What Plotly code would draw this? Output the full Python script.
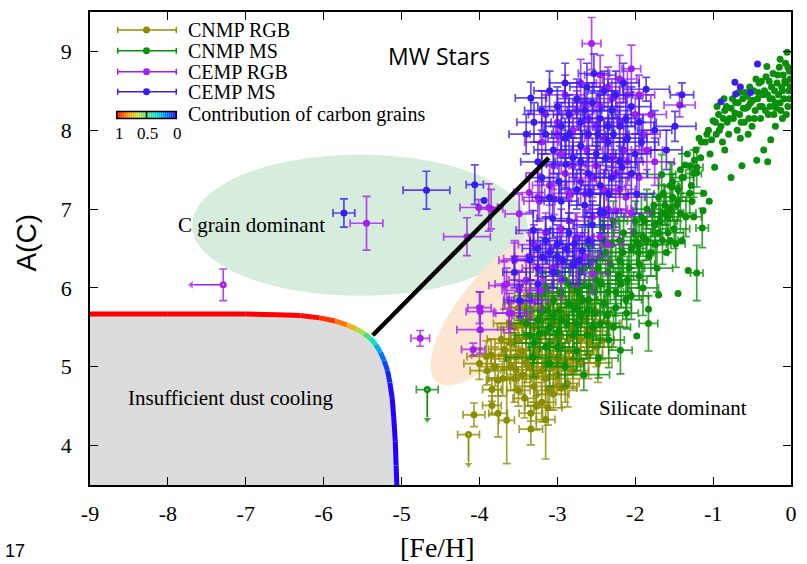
import numpy as np
import plotly.graph_objects as go
from plotly.colors import sample_colorscale

# ---------------- data ----------------
# (Fe/H, A(C), err_FeH, err_AC)
cnmp_rgb = [
    (-4.07, 4.39, 0.14, 0.15), (-3.84, 4.51, 0.12, 0.12), (-3.76, 4.41, 0.12, 0.30),
    (-3.65, 4.32, 0.10, 0.55), (-3.34, 4.21, 0.15, 0.20), (-3.34, 4.41, 0.15, 0.10),
    (-3.20, 4.55, 0.18, 0.25), (-3.05, 4.65, 0.20, 0.20), (-3.50, 4.70, 0.15, 0.20),
    (-3.70, 4.85, 0.18, 0.22), (-3.90, 4.95, 0.22, 0.18), (-4.00, 5.04, 0.20, 0.20),
    (-3.85, 5.15, 0.25, 0.20), (-3.60, 5.00, 0.22, 0.30), (-3.45, 4.90, 0.20, 0.25),
    (-3.30, 4.75, 0.25, 0.20), (-3.15, 4.85, 0.18, 0.30), (-3.00, 4.90, 0.20, 0.25),
    (-2.90, 4.75, 0.15, 0.20), (-2.80, 4.95, 0.20, 0.25), (-2.70, 5.05, 0.22, 0.20),
    (-2.60, 5.15, 0.18, 0.30), (-2.50, 5.25, 0.20, 0.25), (-2.42, 5.34, 0.15, 0.25),
    (-2.55, 5.45, 0.22, 0.20), (-2.70, 5.35, 0.25, 0.25), (-2.85, 5.20, 0.20, 0.30),
    (-3.00, 5.10, 0.25, 0.25), (-3.15, 5.05, 0.22, 0.20), (-3.30, 5.15, 0.20, 0.25),
    (-3.45, 5.20, 0.25, 0.30), (-3.60, 5.30, 0.20, 0.25), (-3.72, 5.35, 0.18, 0.20),
    (-3.55, 5.50, 0.22, 0.25), (-3.40, 5.40, 0.20, 0.30), (-3.25, 5.35, 0.25, 0.25),
    (-3.10, 5.30, 0.20, 0.20), (-2.95, 5.40, 0.22, 0.30), (-2.80, 5.50, 0.20, 0.25),
    (-2.65, 5.60, 0.25, 0.20), (-2.50, 5.70, 0.20, 0.25), (-2.35, 5.55, 0.18, 0.30),
    (-2.75, 5.75, 0.22, 0.25), (-2.90, 5.65, 0.20, 0.20), (-3.05, 5.55, 0.25, 0.25),
    (-3.20, 5.60, 0.20, 0.30), (-3.35, 5.65, 0.22, 0.25), (-3.50, 5.75, 0.20, 0.20),
    (-3.10, 5.80, 0.20, 0.25), (-2.95, 5.90, 0.22, 0.25), (-2.80, 5.95, 0.20, 0.20),
    (-3.25, 5.90, 0.18, 0.25), (-3.62, 5.55, 0.20, 0.25), (-3.15, 4.33, 0.12, 0.50),
    (-3.27, 4.50, 0.15, 0.30), (-2.95, 4.73, 0.20, 0.25), (-2.87, 4.79, 0.15, 0.30),
    (-3.76, 4.83, 0.15, 0.20), (-3.84, 4.71, 0.12, 0.15), (-3.53, 4.96, 0.20, 0.25),
    (-3.27, 4.88, 0.22, 0.25), (-3.91, 5.13, 0.25, 0.20), (-3.53, 5.13, 0.22, 0.30),
    (-2.62, 5.45, 0.20, 0.25), (-2.48, 5.05, 0.18, 0.25), (-3.42, 4.60, 0.15, 0.25),
    (-3.12, 4.48, 0.18, 0.22), (-2.98, 5.02, 0.22, 0.25), (-3.68, 5.22, 0.20, 0.25),
    (-2.75, 5.82, 0.20, 0.25), (-3.45, 5.55, 0.20, 0.25), (-3.30, 5.50, 0.22, 0.25),
    (-3.15, 5.45, 0.20, 0.30), (-3.00, 5.35, 0.22, 0.25), (-2.85, 5.35, 0.20, 0.25),
    (-2.75, 5.20, 0.22, 0.30), (-2.60, 5.30, 0.20, 0.25), (-3.35, 5.00, 0.22, 0.25),
    (-3.20, 4.95, 0.20, 0.30), (-3.05, 5.00, 0.22, 0.25), (-2.90, 5.10, 0.20, 0.25),
    (-3.50, 5.35, 0.22, 0.30), (-3.65, 5.10, 0.20, 0.25), (-3.40, 5.05, 0.22, 0.25),
    (-3.25, 5.22, 0.20, 0.30), (-3.10, 5.15, 0.22, 0.25), (-2.95, 5.25, 0.20, 0.25),
    (-3.55, 4.85, 0.22, 0.30), (-3.10, 4.70, 0.20, 0.25), (-2.80, 5.10, 0.22, 0.25),
    (-3.40, 5.75, 0.20, 0.25), (-3.20, 5.75, 0.22, 0.25), (-3.00, 5.70, 0.20, 0.30),
    (-2.60, 5.85, 0.20, 0.25), (-3.80, 5.00, 0.20, 0.25),
]
# upper limits on A(C): (Fe/H, A(C), err_FeH, arrow end A(C))
cnmp_rgb_limits = [(-4.14, 4.14, 0.14, 3.76)]

cnmp_ms = [
    (-3.49, 5.84, 0.20, 0.25), (-3.40, 5.55, 0.22, 0.25), (-3.35, 5.90, 0.20, 0.30),
    (-3.30, 5.30, 0.25, 0.25), (-3.31, 5.12, 0.35, 0.25), (-3.23, 5.42, 0.20, 0.30),
    (-3.20, 5.70, 0.22, 0.25), (-3.15, 6.00, 0.20, 0.25), (-3.10, 5.50, 0.25, 0.30),
    (-3.05, 5.85, 0.20, 0.25), (-3.00, 5.25, 0.22, 0.25), (-2.95, 5.60, 0.20, 0.30),
    (-2.90, 6.10, 0.25, 0.25), (-2.85, 5.80, 0.20, 0.25), (-2.80, 5.40, 0.22, 0.30),
    (-2.75, 6.00, 0.20, 0.25), (-2.70, 5.65, 0.25, 0.25), (-2.66, 4.90, 0.33, 0.20),
    (-2.65, 6.25, 0.20, 0.25), (-2.60, 5.85, 0.22, 0.30), (-2.55, 5.50, 0.20, 0.25),
    (-2.50, 6.10, 0.25, 0.25), (-2.47, 5.11, 0.25, 0.25), (-2.45, 6.40, 0.20, 0.30),
    (-2.40, 5.80, 0.22, 0.25), (-2.35, 6.20, 0.20, 0.25), (-2.34, 5.34, 0.20, 0.35),
    (-2.30, 6.55, 0.25, 0.25), (-2.25, 5.95, 0.20, 0.30), (-2.20, 6.35, 0.22, 0.25),
    (-2.19, 5.21, 0.15, 0.30), (-2.15, 6.70, 0.20, 0.25), (-2.11, 5.68, 0.15, 0.20),
    (-2.10, 6.10, 0.25, 0.30), (-2.05, 6.50, 0.20, 0.25), (-2.00, 6.85, 0.22, 0.25),
    (-1.95, 6.30, 0.20, 0.30), (-1.90, 6.65, 0.25, 0.25), (-1.85, 7.00, 0.20, 0.25),
    (-1.83, 5.55, 0.12, 0.35), (-1.80, 6.45, 0.22, 0.30), (-1.75, 6.80, 0.20, 0.25),
    (-1.70, 7.15, 0.18, 0.25), (-1.65, 6.60, 0.20, 0.30), (-1.60, 6.95, 0.22, 0.25),
    (-1.55, 7.30, 0.15, 0.30), (-1.50, 6.75, 0.20, 0.25), (-1.48, 6.56, 0.12, 0.30),
    (-1.45, 7.10, 0.18, 0.25), (-1.40, 7.40, 0.15, 0.30), (-1.35, 6.90, 0.20, 0.25),
    (-1.30, 7.20, 0.15, 0.30), (-1.21, 6.19, 0.08, 0.35), (-1.14, 6.76, 0.08, 0.25),
    (-1.25, 7.45, 0.10, 0.30), (-1.21, 7.53, 0.08, 0.25), (-1.53, 7.28, 0.10, 0.30),
    (-1.66, 7.44, 0.18, 0.25), (-2.42, 6.77, 0.22, 0.25), (-2.60, 6.55, 0.20, 0.30),
    (-2.80, 6.30, 0.22, 0.25), (-3.00, 6.20, 0.20, 0.25), (-2.90, 5.00, 0.25, 0.25),
    (-3.10, 5.05, 0.22, 0.30), (-2.75, 5.20, 0.20, 0.25), (-2.45, 5.55, 0.25, 0.30),
    (-2.25, 5.75, 0.20, 0.25), (-2.05, 5.90, 0.22, 0.30), (-1.90, 6.00, 0.20, 0.35),
    (-3.19, 5.93, 0.20, 0.25), (-2.58, 6.02, 0.25, 0.30), (-2.38, 6.45, 0.20, 0.25),
    (-2.18, 6.05, 0.22, 0.30), (-1.98, 6.55, 0.20, 0.25), (-2.72, 5.95, 0.22, 0.25),
    (-2.52, 5.68, 0.20, 0.30), (-2.28, 6.85, 0.18, 0.25), (-1.72, 6.25, 0.20, 0.30),
    (-1.62, 7.05, 0.15, 0.25), (-3.25, 5.60, 0.22, 0.25), (-3.12, 5.72, 0.20, 0.30),
    (-2.98, 5.45, 0.25, 0.25), (-2.88, 5.55, 0.20, 0.25), (-2.78, 5.75, 0.22, 0.30),
    (-2.68, 5.85, 0.20, 0.25), (-2.62, 5.40, 0.25, 0.25), (-2.52, 5.95, 0.20, 0.30),
    (-2.44, 6.05, 0.22, 0.25), (-2.36, 5.65, 0.20, 0.25), (-2.32, 6.30, 0.25, 0.30),
    (-2.22, 6.15, 0.20, 0.25), (-2.16, 6.45, 0.22, 0.25), (-2.08, 6.25, 0.20, 0.30),
    (-2.02, 6.70, 0.25, 0.25), (-1.96, 6.45, 0.20, 0.25), (-1.92, 6.90, 0.22, 0.30),
    (-1.86, 6.60, 0.20, 0.25), (-1.78, 6.95, 0.25, 0.25), (-1.74, 6.55, 0.20, 0.30),
    (-1.68, 6.85, 0.22, 0.25), (-1.58, 6.70, 0.20, 0.25), (-1.52, 7.15, 0.18, 0.30),
    (-1.42, 6.95, 0.20, 0.25), (-2.85, 6.05, 0.22, 0.25), (-2.70, 6.20, 0.20, 0.30),
    (-2.55, 6.35, 0.22, 0.25), (-2.40, 6.60, 0.20, 0.25), (-2.20, 6.60, 0.22, 0.30),
    (-3.05, 5.65, 0.20, 0.25), (-2.95, 5.95, 0.22, 0.25), (-2.62, 5.70, 0.20, 0.30),
    (-2.28, 5.50, 0.22, 0.25), (-2.12, 5.85, 0.20, 0.25), (-1.95, 6.15, 0.22, 0.30),
    (-2.48, 6.25, 0.20, 0.25), (-2.75, 5.55, 0.22, 0.25), (-3.35, 5.40, 0.20, 0.30),
    (-3.15, 5.25, 0.22, 0.25), (-2.35, 5.95, 0.20, 0.25),
]
cnmp_ms_limits = [(-4.67, 4.71, 0.14, 4.33)]

# CNMP MS stars plotted without error bars: (Fe/H, A(C))
cnmp_ms_dots = [
    (-1.95, 6.55), (-1.88, 6.85), (-1.82, 6.40), (-1.76, 7.05), (-1.70, 6.70), (-1.64, 7.20),
    (-1.58, 6.90), (-1.52, 7.35), (-1.47, 7.05), (-1.42, 7.50), (-1.36, 7.56), (-1.33, 7.70),
    (-1.28, 7.30), (-1.24, 7.62), (-1.21, 7.46), (-1.18, 7.90), (-1.15, 7.85), (-1.12, 7.20),
    (-1.08, 7.95), (-1.04, 7.70), (-1.00, 8.12), (-0.98, 7.53), (-0.96, 7.95), (-0.93, 8.20),
    (-0.90, 8.05), (-0.88, 7.85), (-0.85, 8.25), (-0.82, 8.10), (-0.80, 7.95), (-0.77, 8.28),
    (-0.77, 7.40), (-0.74, 8.15), (-0.71, 8.35), (-0.69, 8.00), (-0.66, 8.20), (-0.63, 7.55),
    (-0.62, 8.40), (-0.60, 8.10), (-0.58, 8.28), (-0.56, 8.43), (-0.54, 8.15), (-0.52, 8.35),
    (-0.50, 8.05), (-0.48, 8.50), (-0.46, 8.25), (-0.44, 7.62), (-0.43, 8.40), (-0.41, 8.60),
    (-0.39, 8.15), (-0.37, 8.30), (-0.35, 7.75), (-0.34, 8.50), (-0.32, 8.68), (-0.31, 8.81),
    (-0.30, 7.60), (-0.29, 8.20), (-0.27, 8.40), (-0.26, 7.88), (-0.25, 8.55), (-0.23, 8.72),
    (-0.22, 8.20), (-0.20, 8.35), (-0.18, 8.60), (-0.16, 8.45), (-0.15, 8.80), (-0.13, 8.25),
    (-0.12, 8.55), (-0.10, 8.70), (-0.09, 8.40), (-0.07, 8.85), (-0.06, 8.60), (-0.05, 8.99),
    (-0.04, 8.30), (-0.03, 8.50), (-0.02, 8.75), (-0.01, 8.65), (-1.13, 6.98), (-1.25, 6.90),
    (-1.40, 6.60), (-1.60, 6.45), (-1.05, 7.10), (-1.98, 5.39), (-1.83, 5.73), (-1.32, 6.22),
    (-1.45, 5.93), (-1.70, 5.91), (-0.95, 8.30), (-0.86, 8.40), (-0.67, 8.48), (-0.45, 8.65),
    (-0.20, 8.05), (-0.11, 8.15), (-1.55, 6.60), (-1.27, 7.10), (-1.38, 7.40), (-1.30, 7.55),
    (-1.22, 7.75), (-1.16, 7.65), (-1.10, 7.85), (-1.06, 8.00), (-1.02, 7.88), (-0.97, 8.10),
    (-0.92, 8.00), (-0.87, 8.15), (-0.83, 8.30), (-0.79, 8.15), (-0.75, 8.40), (-0.72, 8.22),
    (-0.68, 8.35), (-0.64, 8.10), (-0.61, 8.28), (-0.59, 8.48), (-0.55, 8.30), (-0.53, 8.55),
    (-0.49, 8.38), (-0.47, 8.15), (-0.42, 8.48), (-0.40, 8.30), (-0.38, 8.62), (-0.36, 8.45),
    (-0.33, 8.25), (-0.30, 8.45), (-0.28, 8.62), (-0.24, 8.40), (-0.21, 8.50), (-0.19, 8.28),
    (-0.17, 8.70), (-0.14, 8.35), (-0.11, 8.50), (-0.08, 8.62), (-0.06, 8.20), (-0.04, 8.80),
    (-0.02, 8.40), (-0.01, 8.55), (-0.14, 8.90), (-0.27, 8.30), (-0.65, 7.90), (-0.55, 7.95),
    (-0.85, 7.75), (-1.45, 7.25), (-1.55, 7.00), (-1.65, 6.95), (-1.75, 6.80), (-1.85, 6.60),
]

cemp_rgb = [
    (-2.56, 9.10, 0.12, 0.33), (-2.05, 8.78, 0.12, 0.30), (-2.35, 8.55, 0.25, 0.25),
    (-2.70, 8.60, 0.20, 0.30), (-2.90, 8.45, 0.25, 0.25), (-2.45, 8.30, 0.22, 0.30),
    (-2.20, 8.10, 0.20, 0.25), (-2.60, 8.15, 0.25, 0.25), (-2.80, 8.00, 0.22, 0.30),
    (-3.00, 8.10, 0.20, 0.25), (-2.40, 7.90, 0.25, 0.25), (-2.15, 7.75, 0.20, 0.30),
    (-1.90, 7.95, 0.22, 0.25), (-1.43, 8.32, 0.20, 0.15), (-1.75, 7.60, 0.25, 0.30),
    (-2.50, 7.55, 0.22, 0.25), (-2.70, 7.35, 0.25, 0.30), (-2.90, 7.45, 0.20, 0.25),
    (-3.10, 7.30, 0.22, 0.25), (-3.25, 7.15, 0.20, 0.30), (-2.35, 7.00, 0.25, 0.25),
    (-2.55, 6.90, 0.22, 0.30), (-2.20, 7.25, 0.20, 0.25), (-2.05, 6.95, 0.25, 0.25),
    (-3.85, 7.00, 0.15, 0.25), (-3.36, 7.21, 0.20, 0.25), (-3.04, 7.13, 0.22, 0.20),
    (-3.23, 7.10, 0.20, 0.25), (-3.49, 6.94, 0.18, 0.25), (-3.55, 6.35, 0.20, 0.25),
    (-3.68, 6.03, 0.20, 0.30), (-3.49, 5.97, 0.22, 0.25), (-3.06, 6.26, 0.25, 0.25),
    (-2.76, 6.31, 0.22, 0.30), (-2.55, 6.18, 0.20, 0.25), (-2.25, 6.98, 0.22, 0.25),
    (-2.64, 7.19, 0.20, 0.30), (-4.00, 5.75, 0.15, 0.20), (-3.62, 5.68, 0.20, 0.25),
    (-3.99, 5.70, 0.18, 0.25), (-3.99, 5.47, 0.30, 0.30), (-4.08, 5.22, 0.15, 0.08),
    (-3.65, 6.05, 0.15, 0.20), (-3.48, 5.82, 0.20, 0.20), (-3.34, 5.84, 0.22, 0.25),
    (-3.59, 5.68, 0.20, 0.20), (-3.21, 5.97, 0.15, 0.25), (-5.45, 6.82, 0.21, 0.34),
    (-4.01, 7.02, 0.24, 0.10), (-3.88, 7.02, 0.12, 0.30), (-4.16, 6.65, 0.30, 0.24),
    (-4.76, 5.36, 0.12, 0.10), (-3.55, 6.37, 0.14, 0.20), (-2.30, 8.40, 0.18, 0.25),
    (-2.75, 8.25, 0.22, 0.25), (-2.10, 8.45, 0.20, 0.30), (-2.95, 7.70, 0.25, 0.25),
    (-2.30, 7.65, 0.22, 0.30), (-1.95, 7.40, 0.25, 0.25), (-1.80, 8.20, 0.20, 0.25),
    (-3.20, 7.85, 0.22, 0.25), (-2.85, 6.85, 0.20, 0.30), (-2.45, 6.65, 0.25, 0.25),
    (-3.30, 6.55, 0.20, 0.25), (-2.95, 6.10, 0.22, 0.25), (-2.62, 7.75, 0.20, 0.30),
    (-2.12, 7.15, 0.25, 0.25), (-3.15, 8.20, 0.22, 0.25), (-3.05, 7.55, 0.20, 0.30),
    (-2.85, 7.20, 0.22, 0.25), (-2.65, 8.35, 0.20, 0.25), (-2.50, 8.05, 0.22, 0.30),
    (-2.40, 7.25, 0.20, 0.25), (-2.25, 7.45, 0.22, 0.25), (-2.10, 7.60, 0.20, 0.30),
    (-2.00, 8.20, 0.22, 0.25), (-1.85, 7.75, 0.20, 0.25), (-2.75, 6.65, 0.22, 0.30),
    (-2.95, 6.75, 0.20, 0.25), (-3.15, 6.70, 0.22, 0.25), (-3.35, 6.40, 0.20, 0.30),
    (-3.40, 6.10, 0.22, 0.25), (-3.25, 6.25, 0.20, 0.25), (-2.65, 6.40, 0.22, 0.30),
    (-2.35, 6.55, 0.20, 0.25), (-2.55, 7.40, 0.22, 0.25), (-2.80, 7.55, 0.20, 0.30),
    (-3.00, 7.95, 0.22, 0.25), (-2.45, 8.70, 0.20, 0.25), (-2.20, 8.65, 0.22, 0.30),
    (-1.95, 8.45, 0.20, 0.25),
]
# upper limit on Fe/H: (Fe/H, A(C), err_AC, arrow end Fe/H)
cemp_rgb_limits = [(-7.29, 6.04, 0.20, -7.70)]

cemp_ms = [
    (-3.34, 8.41, 0.20, 0.20), (-3.20, 8.25, 0.22, 0.25), (-3.10, 8.50, 0.20, 0.25),
    (-3.00, 8.30, 0.25, 0.25), (-2.95, 8.05, 0.22, 0.30), (-2.85, 8.20, 0.20, 0.25),
    (-2.75, 8.40, 0.25, 0.25), (-2.62, 8.55, 0.22, 0.30), (-2.53, 8.72, 0.20, 0.25),
    (-2.55, 8.35, 0.25, 0.25), (-2.45, 8.15, 0.22, 0.30), (-2.40, 8.50, 0.20, 0.25),
    (-2.30, 8.25, 0.25, 0.25), (-2.25, 8.45, 0.22, 0.30), (-2.15, 8.60, 0.20, 0.25),
    (-2.05, 8.30, 0.25, 0.25), (-1.95, 8.10, 0.22, 0.30), (-1.86, 8.52, 0.30, 0.15),
    (-2.60, 7.95, 0.22, 0.25), (-2.70, 7.80, 0.25, 0.30), (-2.80, 7.65, 0.20, 0.25),
    (-2.90, 7.90, 0.22, 0.25), (-3.05, 7.75, 0.25, 0.30), (-3.15, 7.95, 0.20, 0.25),
    (-3.25, 7.60, 0.22, 0.25), (-2.50, 7.70, 0.25, 0.30), (-2.35, 7.85, 0.20, 0.25),
    (-2.20, 7.60, 0.22, 0.25), (-2.10, 7.90, 0.25, 0.30), (-2.00, 7.70, 0.20, 0.25),
    (-2.30, 7.40, 0.22, 0.25), (-2.45, 7.30, 0.25, 0.30), (-2.60, 7.45, 0.20, 0.25),
    (-2.75, 7.25, 0.22, 0.25), (-2.89, 7.57, 0.25, 0.30), (-2.17, 7.53, 0.20, 0.25),
    (-1.98, 7.19, 0.22, 0.25), (-2.34, 7.19, 0.25, 0.30), (-3.06, 6.88, 0.20, 0.25),
    (-3.31, 6.73, 0.22, 0.25), (-2.78, 6.56, 0.25, 0.30), (-3.19, 6.39, 0.20, 0.25),
    (-2.93, 6.35, 0.22, 0.25), (-2.68, 6.47, 0.25, 0.30), (-3.55, 6.20, 0.15, 0.20),
    (-2.85, 6.70, 0.20, 0.25), (-3.00, 6.55, 0.22, 0.25), (-2.55, 6.80, 0.25, 0.30),
    (-2.65, 7.05, 0.20, 0.25), (-2.95, 7.10, 0.22, 0.25), (-3.10, 6.45, 0.25, 0.30),
    (-2.80, 6.30, 0.20, 0.25), (-3.48, 5.84, 0.15, 0.20), (-5.74, 6.95, 0.14, 0.18),
    (-4.68, 7.24, 0.30, 0.24), (-4.06, 7.31, 0.11, 0.25), (-1.40, 8.45, 0.15, 0.15),
    (-1.49, 8.05, 0.27, 0.19), (-1.75, 8.00, 0.22, 0.25), (-1.60, 7.75, 0.20, 0.25),
    (-3.05, 6.20, 0.22, 0.20), (-3.25, 6.05, 0.20, 0.25), (-2.40, 6.95, 0.22, 0.25),
    (-2.20, 8.05, 0.20, 0.25), (-3.40, 7.95, 0.22, 0.25), (-2.70, 8.10, 0.25, 0.30),
    (-3.30, 8.10, 0.22, 0.25), (-3.20, 7.40, 0.20, 0.30), (-3.10, 7.15, 0.22, 0.25),
    (-2.98, 7.35, 0.20, 0.25), (-2.85, 7.95, 0.22, 0.30), (-2.70, 7.60, 0.20, 0.25),
    (-2.58, 7.20, 0.22, 0.25), (-2.48, 7.95, 0.20, 0.30), (-2.38, 7.65, 0.22, 0.25),
    (-2.28, 7.95, 0.20, 0.25), (-2.12, 8.15, 0.22, 0.30), (-2.05, 7.45, 0.20, 0.25),
    (-1.92, 7.85, 0.22, 0.25), (-3.15, 6.60, 0.20, 0.30), (-3.00, 6.40, 0.22, 0.25),
    (-2.88, 6.50, 0.20, 0.25), (-2.72, 6.35, 0.22, 0.30), (-3.25, 6.50, 0.20, 0.25),
    (-3.35, 6.35, 0.22, 0.25), (-2.60, 6.60, 0.20, 0.30), (-2.45, 6.95, 0.22, 0.25),
    (-2.90, 8.60, 0.20, 0.25), (-2.65, 8.25, 0.22, 0.30), (-2.35, 8.05, 0.20, 0.25),
]
# CEMP MS stars plotted without error bars
cemp_ms_dots = [(-3.94, 7.11), (-0.43, 8.84), (-0.72, 8.61), (-0.65, 8.55), (-0.71, 8.46),
                (-0.52, 8.48), (-0.90, 8.36)]

# carbon-grain boundary of the "insufficient dust cooling" region
curve_fe = [-9.0, -8.0, -7.0, -6.6, -6.3, -6.05, -5.85, -5.70, -5.58, -5.48, -5.40, -5.33,
            -5.27, -5.22, -5.18, -5.15, -5.12, -5.10, -5.08, -5.07, -5.06]
curve_ac = [5.67, 5.67, 5.67, 5.66, 5.65, 5.62, 5.58, 5.53, 5.48, 5.42, 5.36, 5.28,
            5.18, 5.07, 4.95, 4.80, 4.60, 4.35, 4.05, 3.75, 3.50]
curve_contrib = [1, 1, 1, 1, 1, 0.97, 0.9, 0.8, 0.68, 0.55, 0.42, 0.3,
                 0.2, 0.12, 0.06, 0.03, 0, 0, 0, 0, 0]

# black transition line
line_fe = [-5.37, -3.11]
line_ac = [5.40, 7.65]

x_ticks = [-9, -8, -7, -6, -5, -4, -3, -2, -1, 0]
x_ticktext = ["-9", "-8", "-7", "-6", "-5", "-4", "-3", "-2", "-1", "0"]
y_ticks = [4, 5, 6, 7, 8, 9]
y_ticktext = ["4", "5", "6", "7", "8", "9"]
x_range = [-9, 0]
y_range = [3.5, 9.5]

# ---------------- styling ----------------
C_OLIVE = "#8c8c00"
C_GREEN = "#0a8f0a"
C_PURPLE = "#a21ff0"
C_BLUE = "#3a1cf0"
SERIF = "Liberation Serif"
SANS = "Liberation Sans"

colorscale = [[0.0, "#2200ff"], [0.15, "#0070ff"], [0.33, "#00e0d8"], [0.5, "#50e070"],
              [0.65, "#c8e040"], [0.8, "#ff9a00"], [0.9, "#ff5000"], [1.0, "#ff0000"]]


def rgba(hexc, a):
    h = hexc.lstrip("#")
    r, g, b = int(h[0:2], 16), int(h[2:4], 16), int(h[4:6], 16)
    return f"rgba({r},{g},{b},{a})"


fig = go.Figure()

# grey region
fill_x = curve_fe + [x_range[0]]
fill_y = curve_ac + [y_range[0]]
fig.add_trace(go.Scatter(x=fill_x, y=fill_y, fill="toself", fillcolor="#dcdcdc",
                         line=dict(width=0), mode="lines", hoverinfo="skip", showlegend=False))

EB = dict(thickness=1.7, width=4)


def err_series(data, color):
    fe = [d[0] for d in data]
    ac = [d[1] for d in data]
    efe = [d[2] for d in data]
    eac = [d[3] for d in data]
    fig.add_trace(go.Scatter(
        x=fe, y=ac, mode="markers",
        marker=dict(color=color, size=7),
        error_x=dict(type="data", array=efe, color=rgba(color, 0.8), **EB),
        error_y=dict(type="data", array=eac, color=rgba(color, 0.8), **EB),
        showlegend=False))


err_series(cnmp_rgb, C_OLIVE)
for fe, ac, efe, end in cnmp_rgb_limits:
    fig.add_trace(go.Scatter(x=[fe], y=[ac], mode="markers", marker=dict(color=C_OLIVE, size=7),
                             error_x=dict(type="data", array=[efe], color=rgba(C_OLIVE, 0.8), **EB),
                             showlegend=False))
    fig.add_trace(go.Scatter(x=[fe, fe], y=[ac, end], mode="lines+markers",
                             line=dict(color=C_OLIVE, width=1.7),
                             marker=dict(symbol=["circle", "triangle-down"], size=[1, 8], color=C_OLIVE),
                             showlegend=False))

err_series(cnmp_ms, C_GREEN)
for fe, ac, efe, end in cnmp_ms_limits:
    fig.add_trace(go.Scatter(x=[fe], y=[ac], mode="markers", marker=dict(color=C_GREEN, size=7),
                             error_x=dict(type="data", array=[efe], color=rgba(C_GREEN, 0.8), **EB),
                             showlegend=False))
    fig.add_trace(go.Scatter(x=[fe, fe], y=[ac, end], mode="lines+markers",
                             line=dict(color=C_GREEN, width=1.7),
                             marker=dict(symbol=["circle", "triangle-down"], size=[1, 8], color=C_GREEN),
                             showlegend=False))
fig.add_trace(go.Scatter(x=[d[0] for d in cnmp_ms_dots], y=[d[1] for d in cnmp_ms_dots],
                         mode="markers", marker=dict(color=C_GREEN, size=7), showlegend=False))

err_series(cemp_rgb, C_PURPLE)
for fe, ac, eac, end in cemp_rgb_limits:
    fig.add_trace(go.Scatter(x=[fe], y=[ac], mode="markers", marker=dict(color=C_PURPLE, size=7),
                             error_y=dict(type="data", array=[eac], color=rgba(C_PURPLE, 0.8), **EB),
                             showlegend=False))
    fig.add_trace(go.Scatter(x=[fe, end], y=[ac, ac], mode="lines+markers",
                             line=dict(color=C_PURPLE, width=1.7),
                             marker=dict(symbol=["circle", "triangle-left"], size=[1, 8], color=C_PURPLE),
                             showlegend=False))

err_series(cemp_ms, C_BLUE)
fig.add_trace(go.Scatter(x=[d[0] for d in cemp_ms_dots], y=[d[1] for d in cemp_ms_dots],
                         mode="markers", marker=dict(color=C_BLUE, size=7), showlegend=False))

# coloured boundary curve
for i in range(len(curve_fe) - 1):
    c = sample_colorscale(colorscale, [(curve_contrib[i] + curve_contrib[i + 1]) / 2])[0]
    fig.add_trace(go.Scatter(x=curve_fe[i:i + 2], y=curve_ac[i:i + 2], mode="lines",
                             line=dict(color=c, width=5), hoverinfo="skip", showlegend=False))

# black line
fig.add_trace(go.Scatter(x=line_fe, y=line_ac, mode="lines", line=dict(color="black", width=4.5),
                         showlegend=False))

# ---------------- shapes ----------------
shapes = []
shapes.append(dict(type="circle", xref="x", yref="y", x0=-7.69, x1=-3.38, y0=5.90, y1=7.69,
                   fillcolor="#d6ecdc", line=dict(width=0), layer="below"))
cx, cy, a, b, ang = -3.78, 5.73, 1.20, 0.46, np.deg2rad(50)
t = np.linspace(0, 2 * np.pi, 80)
ex = cx + a * np.cos(t) * np.cos(ang) - b * np.sin(t) * np.sin(ang)
ey = cy + a * np.cos(t) * np.sin(ang) + b * np.sin(t) * np.cos(ang)
path = "M " + " L ".join(f"{u:.4f},{v:.4f}" for u, v in zip(ex, ey)) + " Z"
shapes.append(dict(type="path", xref="x", yref="y", path=path, fillcolor="#fce6d2",
                   line=dict(width=0), layer="below"))

# ---------------- legend (drawn manually) ----------------
L, R, T, B = 90, 797, 10, 485
W, H = 807, 564


def px(x):
    return (x - L) / (R - L)


def py(y):
    return (B - y) / (B - T)


annotations = []
legend_rows = [("CNMP RGB", C_OLIVE, 28), ("CNMP MS", C_GREEN, 49),
               ("CEMP RGB", C_PURPLE, 70), ("CEMP MS", C_BLUE, 90)]
for name, col, yy in legend_rows:
    shapes.append(dict(type="line", xref="paper", yref="paper", x0=px(118), x1=px(177),
                       y0=py(yy), y1=py(yy), line=dict(color=col, width=1.5)))
    for xe in (118, 177):
        shapes.append(dict(type="line", xref="paper", yref="paper", x0=px(xe), x1=px(xe),
                           y0=py(yy - 3), y1=py(yy + 3), line=dict(color=col, width=1.5)))
    shapes.append(dict(type="circle", xref="paper", yref="paper", x0=px(143.5), x1=px(150.5),
                       y0=py(yy + 3.5), y1=py(yy - 3.5), fillcolor=col, line=dict(width=0)))
    annotations.append(dict(text=name, xref="paper", yref="paper", x=px(187), y=py(yy),
                            xanchor="left", yanchor="middle", showarrow=False,
                            font=dict(family=SERIF, size=20, color="black")))

n = 30
for i in range(n):
    v = 1 - (i + 0.5) / n
    c = sample_colorscale(colorscale, [v])[0]
    shapes.append(dict(type="rect", xref="paper", yref="paper",
                       x0=px(117 + 60 * i / n), x1=px(117 + 60 * (i + 1) / n),
                       y0=py(117), y1=py(110), fillcolor=c, line=dict(width=0)))
shapes.append(dict(type="rect", xref="paper", yref="paper", x0=px(117), x1=px(177),
                   y0=py(117), y1=py(110), line=dict(color="black", width=1.5)))
shapes.append(dict(type="line", xref="paper", yref="paper", x0=px(147), x1=px(147),
                   y0=py(117), y1=py(110), line=dict(color="black", width=1.5)))
annotations.append(dict(text="Contribution of carbon grains", xref="paper", yref="paper",
                        x=px(187), y=py(113), xanchor="left", yanchor="middle", showarrow=False,
                        font=dict(family=SERIF, size=20, color="black")))
for lab, xx in (("1", 120), ("0.5", 148), ("0", 178)):
    annotations.append(dict(text=lab, xref="paper", yref="paper", x=px(xx), y=py(132),
                            xanchor="center", yanchor="middle", showarrow=False,
                            font=dict(family=SERIF, size=17, color="black")))

annotations += [
    dict(text="MW Stars", x=-4.52, y=8.94, xref="x", yref="y", showarrow=False,
         font=dict(family="Open Sans", size=23, color="black")),
    dict(text="C grain dominant", x=-6.93, y=6.80, xref="x", yref="y", showarrow=False,
         font=dict(family=SERIF, size=21, color="black")),
    dict(text="Insufficient dust cooling", x=-7.20, y=4.60, xref="x", yref="y", showarrow=False,
         font=dict(family=SERIF, size=21, color="black")),
    dict(text="Silicate dominant", x=-1.52, y=4.48, xref="x", yref="y", showarrow=False,
         font=dict(family=SERIF, size=21, color="black")),
    dict(text="[Fe/H]", xref="paper", yref="paper", x=px(440), y=py(548), showarrow=False,
         xanchor="center", yanchor="middle", font=dict(family=SERIF, size=28, color="black")),
    dict(text="A(C)", xref="paper", yref="paper", x=px(25), y=py(242), showarrow=False,
         xanchor="center", yanchor="middle", textangle=-90,
         font=dict(family=SANS, size=28, color="black")),
    dict(text="17", xref="paper", yref="paper", x=px(2), y=py(563), showarrow=False,
         xanchor="left", yanchor="bottom", font=dict(family=SANS, size=18, color="black")),
]

axis_common = dict(showline=True, linecolor="black", linewidth=1.5, mirror="ticks",
                   ticks="inside", ticklen=8, tickcolor="black", tickwidth=1.2,
                   showgrid=False, zeroline=False, tickmode="array",
                   tickfont=dict(family=SERIF, size=22, color="black"))

fig.update_layout(
    width=W, height=H,
    margin=dict(l=L, r=W - R, t=T, b=H - B),
    paper_bgcolor="white", plot_bgcolor="white",
    font=dict(family=SERIF, color="black"),
    xaxis=dict(range=x_range, tickvals=x_ticks, ticktext=x_ticktext, ticklabelstandoff=8,
               **axis_common),
    yaxis=dict(range=y_range, tickvals=y_ticks, ticktext=y_ticktext, ticklabelstandoff=12,
               **axis_common),
    shapes=shapes, annotations=annotations, showlegend=False,
)

fig.write_html("out.html")
